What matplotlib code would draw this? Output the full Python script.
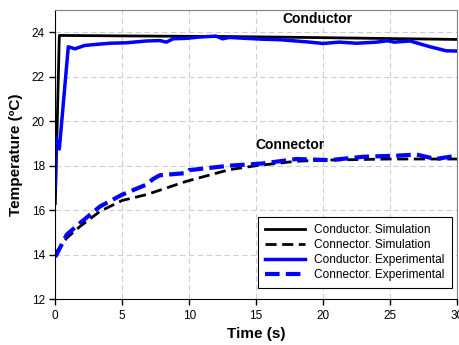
import matplotlib
matplotlib.use('Agg')
import matplotlib.pyplot as plt

plt.rcParams['font.family'] = ['Liberation Sans', 'DejaVu Sans']

# Conductor - simulation
t_cond_sim = [0, 0.3, 5, 10, 13, 20, 25, 30]
T_cond_sim = [16.3, 23.85, 23.83, 23.81, 23.8, 23.75, 23.71, 23.67]

# Connector - simulation
t_conn_sim = [0, 0.85, 1.84, 3.34, 5, 6.8, 8.3, 9.8, 13, 15, 18, 20, 25, 30]
T_conn_sim = [14.05, 14.75, 15.27, 15.95, 16.44, 16.7, 17.0, 17.3, 17.82, 18.0, 18.2, 18.25, 18.3, 18.3]

# Conductor - experimental
t_cond_exp = [0, 0.05, 0.3, 0.97, 1.47, 2.2, 3.1, 4.1, 5.3, 6.8, 7.8, 8.3, 8.8, 9.8, 10.8, 12, 12.5,
              13, 14.2, 15.5, 16.7, 18, 19, 20, 21.2, 22.5, 24, 24.8, 25.3, 26.5, 28, 29.2, 30]
T_cond_exp = [17.0, 19.25, 18.75, 23.34, 23.25, 23.4, 23.45, 23.5, 23.52, 23.6, 23.62, 23.55, 23.7, 23.72, 23.78, 23.82, 23.7,
              23.76, 23.72, 23.68, 23.66, 23.6, 23.55, 23.49, 23.55, 23.5, 23.55, 23.61, 23.55, 23.6, 23.34, 23.16, 23.15]

# Connector - experimental
t_conn_exp = [0, 0.85, 1.84, 3.34, 5, 6.8, 7.3, 7.8, 9.8, 10, 13, 15.5, 18, 20.5, 23, 25.5, 27, 28.4, 30]
T_conn_exp = [13.9, 14.9, 15.42, 16.17, 16.7, 17.15, 17.4, 17.57, 17.67, 17.8, 18.0, 18.1, 18.3, 18.25, 18.4, 18.45, 18.5, 18.3, 18.45]

fig = plt.figure(figsize=(4.59, 3.45), dpi=100)
ax = fig.add_axes([0.1205, 0.1325, 0.875, 0.839])

ax.plot(t_cond_sim, T_cond_sim, color='black', lw=2, label='Conductor. Simulation')
ax.plot(t_conn_sim, T_conn_sim, color='black', lw=2, ls=(0, (4, 2)), label='Connector. Simulation')
ax.plot(t_cond_exp, T_cond_exp, color='#0000ff', lw=2.5, label='Conductor. Experimental')
ax.plot(t_conn_exp, T_conn_exp, color='#0000ff', lw=3, ls=(0, (3.5, 1.5)), label='Connector. Experimental')

ax.set_xlim(0, 30)
ax.set_ylim(12, 25)
ax.set_xticks(range(0, 31, 5))
ax.set_yticks(range(12, 25, 2))
ax.tick_params(labelsize=8.5, direction='out', length=4, width=1)
ax.grid(True, color='#cfcfcf', ls=(0, (5, 3)), lw=0.8)

for s in ['top', 'right']:
    ax.spines[s].set_color('#808080')

ax.set_xlabel('Time (s)', fontsize=11, fontweight='bold', labelpad=4)
ax.set_ylabel('Temperature (ºC)', fontsize=11, fontweight='bold', labelpad=6)

ax.text(19.6, 24.58, 'Conductor', fontsize=10, fontweight='bold', ha='center', va='center')
ax.text(17.5, 18.95, 'Connector', fontsize=10, fontweight='bold', ha='center', va='center')

leg = ax.legend(loc='lower right', fontsize=8.6, fancybox=False, framealpha=1,
                edgecolor='black', handlelength=3.3, borderpad=0.6, labelspacing=0.25,
                borderaxespad=0, bbox_to_anchor=(0.9875, 0.039))
leg.get_frame().set_linewidth(0.8)

fig.savefig('out.png', dpi=100)
